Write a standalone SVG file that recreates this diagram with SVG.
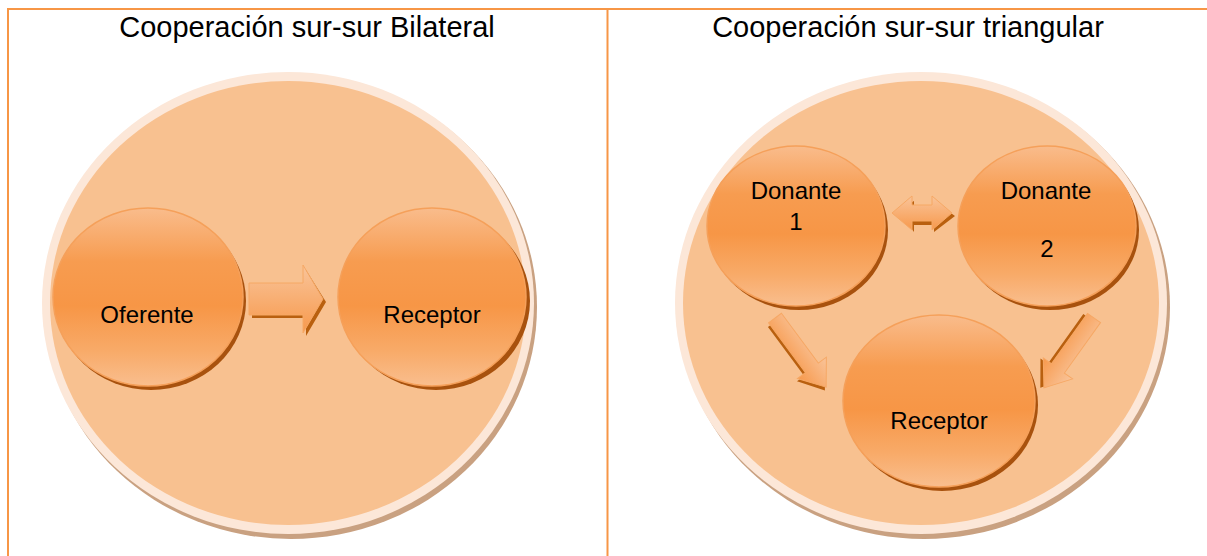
<svg xmlns="http://www.w3.org/2000/svg" width="1207" height="556" viewBox="0 0 1207 556">
<style>
.title{font-family:"Liberation Sans",Arial,sans-serif;font-size:29px;fill:#000;text-anchor:middle}
.lbl{font-family:"Liberation Sans",Arial,sans-serif;font-size:24px;fill:#000;text-anchor:middle}
.border{stroke:#F79646;stroke-width:2;fill:none}
.ring{fill:#FCE7D8}
.ringsh{fill:#C9A181}
.bg{fill:#F8C190}
.node{fill:url(#ng);stroke:#F5A05A;stroke-width:1.5}
.nsh{fill:#A8520E}
.arr{fill:url(#ag);stroke:#F6A865;stroke-width:1}
.ash{fill:#B9600F}
</style>
<defs>
<linearGradient id="ng" x1="0" y1="0" x2="0" y2="1">
<stop offset="0" stop-color="#F9BC8C"/>
<stop offset="0.3" stop-color="#F79C50"/>
<stop offset="0.55" stop-color="#F79646"/>
<stop offset="0.8" stop-color="#F8AA68"/>
<stop offset="1" stop-color="#F9BE8E"/>
</linearGradient>
<linearGradient id="ag" x1="0" y1="0" x2="0" y2="1">
<stop offset="0" stop-color="#F9C49A"/>
<stop offset="1" stop-color="#F7994C"/>
</linearGradient>
<g id="rarrow">
<path class="ash" d="M3,-12 L57,-12 L57,-29 L77,3 L57,37 L57,19 L3,19 Z"/>
<path class="arr" d="M0,-16 L54,-16 L54,-34 L74,0 L54,34 L54,16 L0,16 Z"/>
</g>
<g id="darrow">
<path class="ash" d="M3,-5 L64,-5 L64,-14 L88,3 L64,20 L64,11 L3,11 Z"/>
<path class="arr" d="M0,-8 L62,-8 L62,-18 L86,0 L62,18 L62,8 L0,8 Z"/>
</g>
</defs>
<g id="table">
<line class="border" x1="7" y1="9" x2="1207" y2="9"/>
<line class="border" x1="8" y1="9" x2="8" y2="556"/>
<line class="border" x1="607.5" y1="9" x2="607.5" y2="556"/>
</g>
<text class="title" x="307" y="37">Cooperación sur-sur Bilateral</text>
<text class="title" x="908" y="37">Cooperación sur-sur triangular</text>
<g id="bilateral-bg">
<ellipse class="ringsh" cx="291" cy="307" rx="246" ry="232"/>
<ellipse class="ring" cx="288" cy="303" rx="246" ry="231"/>
<ellipse class="bg" cx="288" cy="303" rx="238" ry="222"/>
</g>
<g id="triangular-bg">
<ellipse class="ringsh" cx="924" cy="307" rx="246" ry="232"/>
<ellipse class="ring" cx="921" cy="303" rx="246" ry="231"/>
<ellipse class="bg" cx="921" cy="303" rx="238" ry="222"/>
</g>
<g id="connectors">
<use href="#rarrow" x="249" y="299"/>
<g transform="translate(892,213)">
<path class="ash" d="M6,-3 L22,-12 L22,-5 L42,-5 L42,-12 L63,3 L42,19 L42,12 L22,12 L22,19 Z"/>
<path class="arr" d="M0,0 L20,-17 L20,-8 L40,-8 L40,-17 L60,0 L40,17 L40,8 L20,8 L20,17 Z"/>
</g>
<g transform="translate(775,318) rotate(53.5)">
<use href="#darrow"/>
</g>
<g transform="translate(1094,318) rotate(125.6)">
<use href="#darrow"/>
</g>
</g>
<g id="n-oferente">
<ellipse class="nsh" cx="151" cy="301" rx="95" ry="89"/>
<ellipse class="node" cx="148" cy="297" rx="95" ry="89"/>
<text class="lbl" x="147" y="323">Oferente</text>
</g>
<g id="n-receptor1">
<ellipse class="nsh" cx="436" cy="301" rx="94" ry="89"/>
<ellipse class="node" cx="432" cy="297" rx="94" ry="89"/>
<text class="lbl" x="432" y="323">Receptor</text>
</g>
<g id="n-donante1">
<ellipse class="nsh" cx="799" cy="230" rx="89" ry="80"/>
<ellipse class="node" cx="796" cy="226" rx="89" ry="80"/>
<text class="lbl" x="796" y="199">Donante</text>
<text class="lbl" x="796" y="230">1</text>
</g>
<g id="n-donante2">
<ellipse class="nsh" cx="1050" cy="230" rx="89" ry="80"/>
<ellipse class="node" cx="1047" cy="226" rx="89" ry="80"/>
<text class="lbl" x="1046" y="199">Donante</text>
<text class="lbl" x="1047" y="257">2</text>
</g>
<g id="n-receptor2">
<ellipse class="nsh" cx="942" cy="405" rx="96" ry="86"/>
<ellipse class="node" cx="939" cy="401" rx="96" ry="86"/>
<text class="lbl" x="939" y="429">Receptor</text>
</g>
</svg>
